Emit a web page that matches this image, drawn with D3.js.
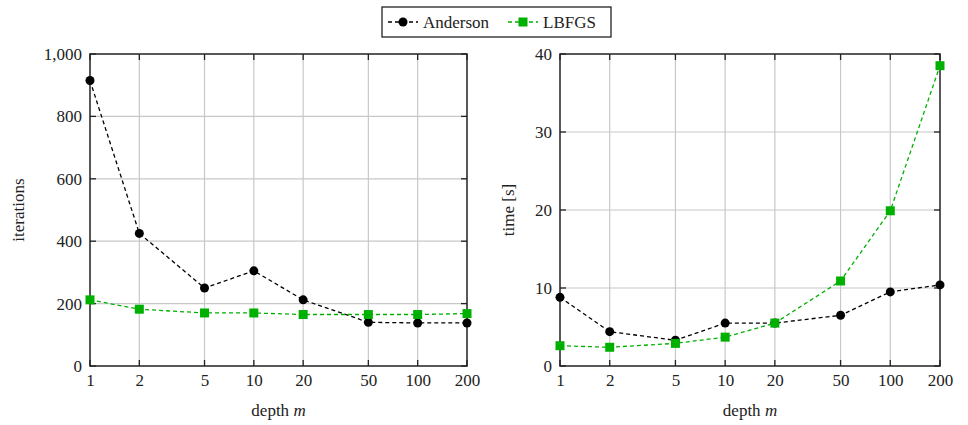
<!DOCTYPE html>
<html>
<head>
<meta charset="utf-8">
<title>Anderson vs LBFGS</title>
<script src="https://d3js.org/d3.v7.min.js"></script>
<style>
  body { margin: 0; background: #fff; }
  svg text { font-family: 'Liberation Serif', 'Times New Roman', serif !important; fill: #222; }
  .grid line { stroke: #c8c8c8; stroke-width: 1.2; }
  .frame { fill: none; stroke: #222; stroke-width: 1.5; }
</style>
</head>
<body>
<svg id="chart" width="968" height="425" font-family="Liberation Serif"></svg>
<script>
// data
var depths = [1, 2, 5, 10, 20, 50, 100, 200];
var iterAnderson = [915, 425, 250, 305, 212, 140, 138, 138];
var iterLBFGS = [212, 182, 170, 170, 165, 165, 165, 168];
var timeAnderson = [8.8, 4.4, 3.3, 5.5, 5.5, 6.5, 9.5, 10.4];
var timeLBFGS = [2.6, 2.4, 2.9, 3.7, 5.5, 10.9, 19.9, 38.5];
var iterTicks = [0, 200, 400, 600, 800, 1000];
var timeTicks = [0, 10, 20, 30, 40];
var seriesNames = ["Anderson", "LBFGS"];
var colors = ["#000000", "#00b000"];

var svg = d3.select("#chart");
var fmt = d3.format(",");
var FONT = "Liberation Serif";

var panels = [
  { left: 90, right: 467, top: 54, bottom: 366, ymax: 1000, ticks: iterTicks,
    label: "iterations", series: [iterAnderson, iterLBFGS], labelX: 24 },
  { left: 560, right: 940, top: 54, bottom: 366, ymax: 40, ticks: timeTicks,
    label: "time [s]", series: [timeAnderson, timeLBFGS], labelX: 514 }
];

panels.forEach(function(p) {
  var x = d3.scaleLog().domain([1, 200]).range([p.left, p.right]);
  var y = d3.scaleLinear().domain([0, p.ymax]).range([p.bottom, p.top]);
  var g = svg.append("g");

  // grid
  var grid = g.append("g").attr("class", "grid");
  grid.selectAll(".gx").data(depths.slice(1, -1)).enter().append("line")
    .attr("x1", d => x(d)).attr("x2", d => x(d))
    .attr("y1", p.top).attr("y2", p.bottom);
  grid.selectAll(".gy").data(p.ticks.slice(1, -1)).enter().append("line")
    .attr("x1", p.left).attr("x2", p.right)
    .attr("y1", d => y(d)).attr("y2", d => y(d));

  // tick labels
  g.append("g").call(d3.axisBottom(x).tickValues(depths).tickSize(0).tickPadding(4).tickFormat(d => d))
    .attr("transform", "translate(0," + p.bottom + ")")
    .attr("font-family", FONT).attr("font-size", 17)
    .call(a => a.select(".domain").remove())
    .call(a => a.selectAll("text").attr("dy", "0.95em").attr("fill", "#222"));
  g.append("g").call(d3.axisLeft(y).tickValues(p.ticks).tickSize(0).tickPadding(8).tickFormat(fmt))
    .attr("transform", "translate(" + p.left + ",0)")
    .attr("font-family", FONT).attr("font-size", 17)
    .call(a => a.select(".domain").remove())
    .call(a => a.selectAll("text").attr("fill", "#222"));

  // inward ticks on all four sides
  var tk = 6;
  var ticks = g.append("g").attr("stroke", "#222").attr("stroke-width", 1.3);
  depths.forEach(function(d) {
    ticks.append("line").attr("x1", x(d)).attr("x2", x(d)).attr("y1", p.bottom).attr("y2", p.bottom - tk);
    ticks.append("line").attr("x1", x(d)).attr("x2", x(d)).attr("y1", p.top).attr("y2", p.top + tk);
  });
  p.ticks.forEach(function(d) {
    ticks.append("line").attr("x1", p.left).attr("x2", p.left + tk).attr("y1", y(d)).attr("y2", y(d));
    ticks.append("line").attr("x1", p.right).attr("x2", p.right - tk).attr("y1", y(d)).attr("y2", y(d));
  });

  g.append("rect").attr("class", "frame")
    .attr("x", p.left).attr("y", p.top)
    .attr("width", p.right - p.left).attr("height", p.bottom - p.top);

  // axis labels
  g.append("text").attr("x", (p.left + p.right) / 2).attr("y", 416)
    .attr("text-anchor", "middle").attr("font-family", FONT).attr("font-size", 17)
    .html("depth <tspan font-style='italic'>m</tspan>");
  g.append("text")
    .attr("transform", "translate(" + p.labelX + "," + ((p.top + p.bottom) / 2) + ") rotate(-90)")
    .attr("text-anchor", "middle").attr("font-family", FONT).attr("font-size", 17)
    .text(p.label);

  // series
  var line = d3.line().x((d, i) => x(depths[i])).y(d => y(d));
  p.series.forEach(function(vals, s) {
    g.append("path").datum(vals)
      .attr("d", line).attr("fill", "none")
      .attr("stroke", colors[s]).attr("stroke-width", 1.3)
      .attr("stroke-dasharray", "4,3");
    if (s === 0) {
      g.selectAll(".m0").data(vals).enter().append("circle")
        .attr("cx", (d, i) => x(depths[i])).attr("cy", d => y(d))
        .attr("r", 4.5).attr("fill", colors[s]);
    } else {
      g.selectAll(".m1").data(vals).enter().append("rect")
        .attr("x", (d, i) => x(depths[i]) - 4.5).attr("y", d => y(d) - 4.5)
        .attr("width", 9).attr("height", 9).attr("fill", colors[s]);
    }
  });
});

// legend
var lg = svg.append("g");
lg.append("rect").attr("x", 382).attr("y", 7).attr("width", 229).attr("height", 30)
  .attr("fill", "#fff").attr("stroke", "#222").attr("stroke-width", 1.3);
var lx = [388, 508];
seriesNames.forEach(function(name, s) {
  var x0 = lx[s], cy = 22;
  lg.append("line").attr("x1", x0).attr("x2", x0 + 30).attr("y1", cy).attr("y2", cy)
    .attr("stroke", colors[s]).attr("stroke-width", 1.3).attr("stroke-dasharray", "4,3");
  if (s === 0) {
    lg.append("circle").attr("cx", x0 + 15).attr("cy", cy).attr("r", 4.5).attr("fill", colors[s]);
  } else {
    lg.append("rect").attr("x", x0 + 10.5).attr("y", cy - 4.5).attr("width", 9).attr("height", 9).attr("fill", colors[s]);
  }
  lg.append("text").attr("x", x0 + 35).attr("y", cy + 6)
    .attr("font-family", FONT).attr("font-size", 17).text(name);
});
</script>
</body>
</html>
